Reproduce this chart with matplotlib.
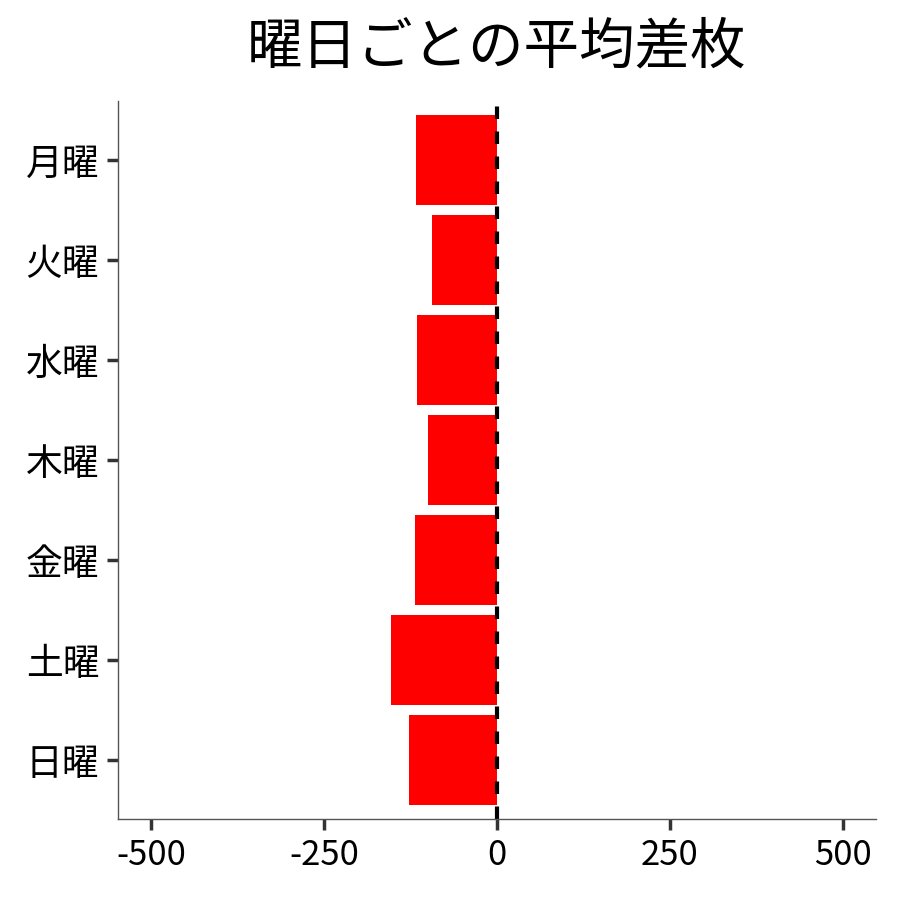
import matplotlib
matplotlib.use('Agg')
import matplotlib.pyplot as plt

plt.rcParams['font.family'] = ['Noto Sans CJK JP', 'DejaVu Sans']

# average difference per weekday
days = ['月曜', '火曜', '水曜', '木曜', '金曜', '土曜', '日曜']
avg_diff = [-117, -94, -116, -100, -118, -153, -127]
xticks = [-500, -250, 0, 250, 500]

fig = plt.figure(figsize=(9, 9), dpi=100)
ax = fig.add_axes([0.131, 0.09, 0.842, 0.798])

pos = list(range(len(days)))
ax.barh(pos, avg_diff, height=0.9, color='#ff0000')
ax.axvline(0, color='black', linestyle=(0, (3, 3)), linewidth=3)

ax.set_yticks(pos)
ax.set_yticklabels(days, fontsize=26.5)
ax.set_ylim(6.59, -0.59)
ax.set_xlim(-548, 548)
ax.set_xticks(xticks)
ax.set_xticklabels([str(v) for v in xticks], fontsize=25)

ax.spines['top'].set_visible(False)
ax.spines['right'].set_visible(False)
for s in ['left', 'bottom']:
    ax.spines[s].set_color('#555555')
    ax.spines[s].set_linewidth(1)
ax.tick_params(axis='both', length=8, width=2.5, color='#333333', pad=5.5)

ax.set_title('曜日ごとの平均差枚', fontsize=40, pad=27)

fig.savefig('out.png')
